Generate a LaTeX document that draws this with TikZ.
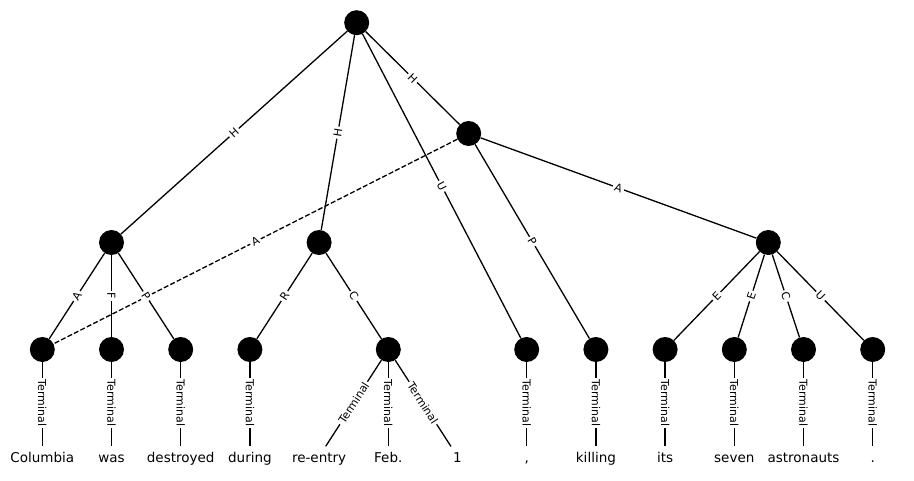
\documentclass[tikz,border=0pt]{standalone}
\usepackage{fontspec}
\setmainfont{DejaVu Sans}
\begin{document}
\begin{tikzpicture}[x=1pt,y=-1pt,
  vtx/.style={circle,fill=black,minimum size=25pt,inner sep=0pt},
  conn/.style={line width=1.3pt},
  remote/.style={line width=1.3pt,dash pattern=on 5pt off 2.2pt},
  lbl/.style={font=\fontsize{11}{11}\selectfont,fill=white,inner sep=2pt,sloped},
  word/.style={font=\fontsize{13.5}{14}\selectfont,text height=14pt,text depth=2pt,inner sep=2pt,fill=white,anchor=base}]
\useasboundingbox (0,0) rectangle (914,481);
% vertices
\node[vtx] (root) at (356.7,22.7) {};
\node[vtx] (h2) at (468.7,133.5) {};
\node[vtx] (pa) at (111.5,242.5) {};
\node[vtx] (pb) at (319.1,242.5) {};
\node[vtx] (pc) at (768.3,242.5) {};
\node[vtx] (t1) at (42.3,349.5) {};
\node[vtx] (t2) at (111.5,349.5) {};
\node[vtx] (t3) at (180.7,349.5) {};
\node[vtx] (t4) at (249.9,349.5) {};
\node[vtx] (t5) at (388.3,349.5) {};
\node[vtx] (t6) at (526.7,349.5) {};
\node[vtx] (t7) at (595.9,349.5) {};
\node[vtx] (t8) at (665.1,349.5) {};
\node[vtx] (t9) at (734.3,349.5) {};
\node[vtx] (t10) at (803.5,349.5) {};
\node[vtx] (t11) at (872.7,349.5) {};
% words
\node[word] (w1) at (42.3,462.5) {Columbia};
\node[word] (w2) at (111.5,462.5) {was};
\node[word] (w3) at (180.7,462.5) {destroyed};
\node[word] (w4) at (249.9,462.5) {during};
\node[word] (w5) at (319.1,462.5) {re-entry};
\node[word] (w6) at (388.3,462.5) {Feb.};
\node[word] (w7) at (457.5,462.5) {1};
\node[word] (w8) at (526.7,462.5) {,};
\node[word] (w9) at (595.9,462.5) {killing};
\node[word] (w10) at (665.1,462.5) {its};
\node[word] (w11) at (734.3,462.5) {seven};
\node[word] (w12) at (803.5,462.5) {astronauts};
\node[word] (w13) at (872.7,462.5) {.};
% edges
\draw[conn] (root) -- (pa);
\draw[conn] (root) -- (pb);
\draw[conn] (root) -- (h2);
\draw[conn] (root) -- (t6);
\draw[conn] (h2) -- (t7);
\draw[conn] (h2) -- (pc);
\draw[remote] (h2) -- (t1);
\draw[conn] (pa) -- (t1);
\draw[conn] (pa) -- (t2);
\draw[conn] (pa) -- (t3);
\draw[conn] (pb) -- (t4);
\draw[conn] (pb) -- (t5);
\draw[conn] (pc) -- (t8);
\draw[conn] (pc) -- (t9);
\draw[conn] (pc) -- (t10);
\draw[conn] (pc) -- (t11);
\foreach \a/\b in {t1/w1,t2/w2,t3/w3,t4/w4,t5/w5,t5/w6,t5/w7,t6/w8,t7/w9,t8/w10,t9/w11,t10/w12,t11/w13}
  \draw[conn] (\a) -- (\b);
% labels
\path (root.center) -- node[lbl]{H} (pa.center);
\path (root.center) -- node[lbl]{H} (pb.center);
\path (root.center) -- node[lbl]{H} (h2.center);
\path (root.center) -- node[lbl]{U} (t6.center);
\path (h2.center) -- node[lbl]{P} (t7.center);
\path (h2.center) -- node[lbl]{A} (pc.center);
\path (h2.center) -- node[lbl]{A} (t1.center);
\path (pa.center) -- node[lbl]{A} (t1.center);
\path (pa.center) -- node[lbl]{F} (t2.center);
\path (pa.center) -- node[lbl]{P} (t3.center);
\path (pb.center) -- node[lbl]{R} (t4.center);
\path (pb.center) -- node[lbl]{C} (t5.center);
\path (pc.center) -- node[lbl]{E} (t8.center);
\path (pc.center) -- node[lbl]{E} (t9.center);
\path (pc.center) -- node[lbl]{C} (t10.center);
\path (pc.center) -- node[lbl]{U} (t11.center);
\foreach \a/\b in {t1/w1,t2/w2,t3/w3,t4/w4,t5/w5,t5/w6,t5/w7,t6/w8,t7/w9,t8/w10,t9/w11,t10/w12,t11/w13}
  \path (\a.center) -- node[lbl]{Terminal} (\b.center);
\end{tikzpicture}
\end{document}
